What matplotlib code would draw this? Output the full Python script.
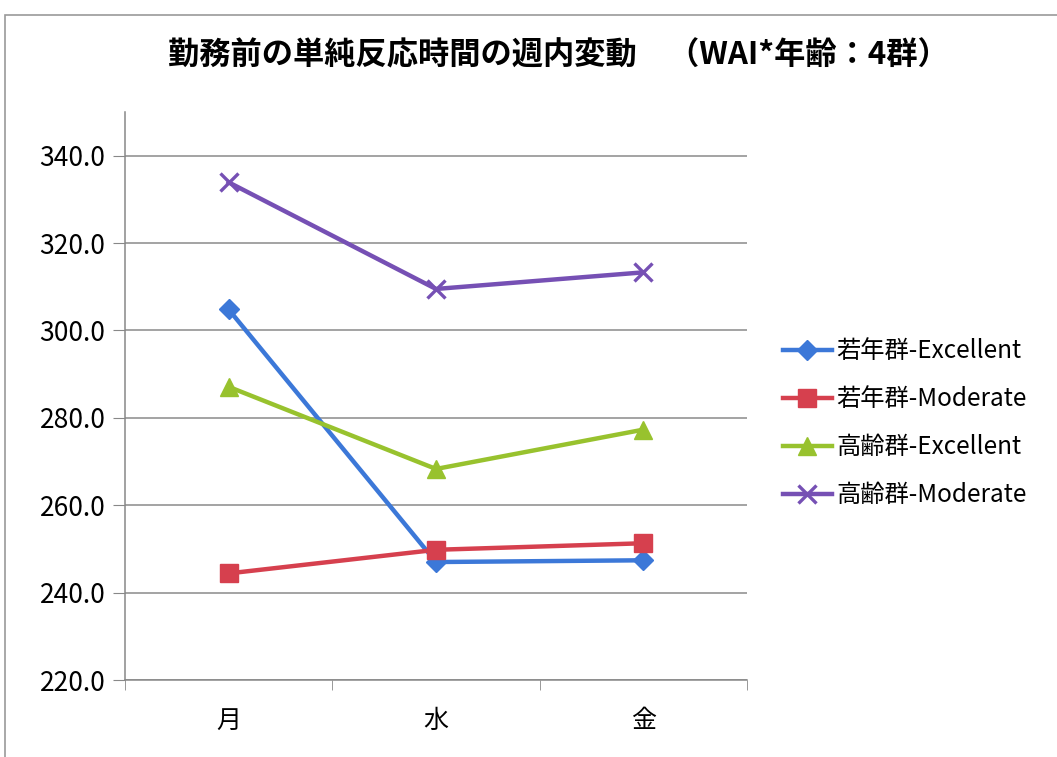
import matplotlib.pyplot as plt
from matplotlib.patches import Rectangle

plt.rcParams['font.family'] = ['Noto Sans CJK JP', 'DejaVu Sans']

# data
days = ['月', '水', '金']
young_exc = [304.8, 247.0, 247.4]
young_mod = [244.4, 249.8, 251.3]
old_exc = [287.1, 268.3, 277.3]
old_mod = [333.9, 309.5, 313.3]
labels = ['若年群-Excellent', '若年群-Moderate', '高齢群-Excellent', '高齢群-Moderate']
yticks = [220, 240, 260, 280, 300, 320, 340]

fig = plt.figure(figsize=(10.57, 7.57), dpi=100)
ax = fig.add_axes([125/1057, 1-680/757, 622/1057, 568/757])

x = range(len(days))
ax.plot(x, young_exc, color='#3C78D8', lw=3.2, marker='D', ms=10, label=labels[0])
ax.plot(x, young_mod, color='#D6404E', lw=3.2, marker='s', ms=13, label=labels[1])
ax.plot(x, old_exc, color='#98C22E', lw=3.2, marker='^', ms=13, label=labels[2])
ax.plot(x, old_mod, color='#7650B4', lw=3.2, marker='x', ms=13, mew=2.4, label=labels[3])

ax.set_xlim(-0.5, 2.5)
ax.set_ylim(220, 350)
ax.set_yticks(yticks)
ax.set_yticklabels([f'{v:.1f}' for v in yticks], fontsize=19)
ax.set_xticks(x)
ax.set_xticklabels(days, fontsize=18)
ax.set_xticks([-0.5, 0.5, 1.5, 2.5], minor=True)
ax.tick_params(axis='x', which='major', length=0, pad=20)
ax.tick_params(axis='x', which='minor', length=7, color='#888888', direction='out')
ax.tick_params(axis='y', length=9, color='#888888', direction='out', pad=5)

ax.grid(axis='y', color='#8a8a8a', lw=1.1)
ax.set_axisbelow(True)
for s in ['top', 'right']:
    ax.spines[s].set_visible(False)
for s in ['left', 'bottom']:
    ax.spines[s].set_color('#888888')
    ax.spines[s].set_linewidth(1.1)

ax.legend(loc='center left', bbox_to_anchor=(1.058, 0.452), frameon=False,
          fontsize=17.5, handlelength=2.0, handletextpad=0.2, labelspacing=0.9,
          borderaxespad=0, borderpad=0)

fig.text(0.528, 1-55/757, '勤務前の単純反応時間の週内変動　（WAI*年齢：4群）',
         ha='center', va='center', fontsize=22.5, fontweight='bold')

# outer chart frame, cropped on right and bottom
fig.patches.append(Rectangle((5/1057, -0.1), 1.2, 1.1-15/757, transform=fig.transFigure,
                             fill=False, edgecolor='#9a9a9a', lw=1.2))

fig.savefig('out.png', dpi=100)
